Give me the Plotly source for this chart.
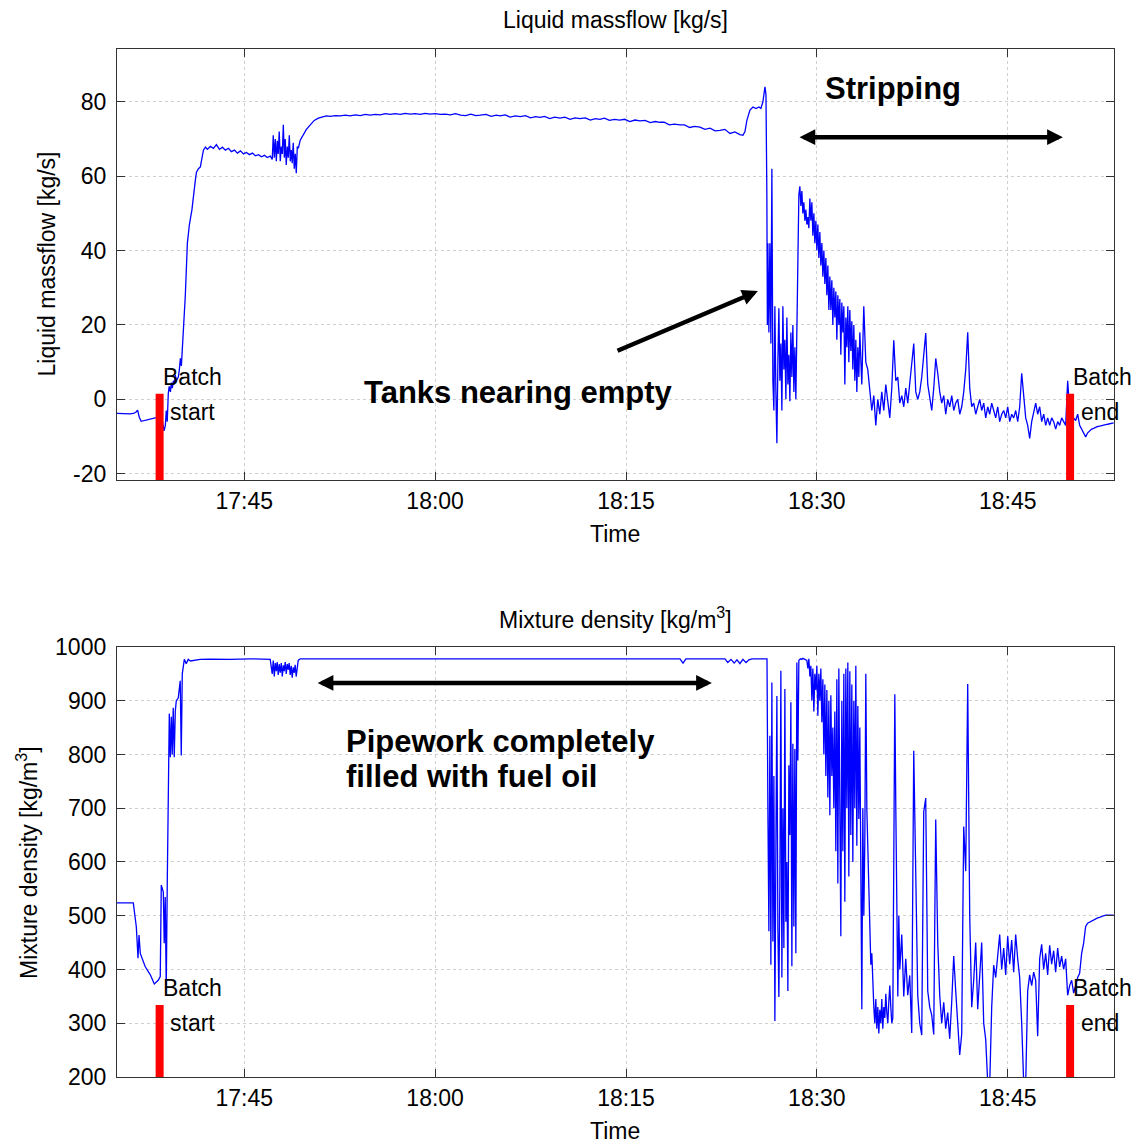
import numpy as np
import pandas as pd
import plotly.graph_objects as go
from plotly.subplots import make_subplots

# ---------------- data (time in minutes after 17:35:00) ----------------
flow_t1 = [0.0, 0.5, 1.0, 1.3, 1.5, 1.62, 1.75, 1.9, 2.2, 2.6, 3.0, 3.3, 3.55, 3.7, 3.8, 3.87, 3.95,
           4.03, 4.1, 4.2, 4.27, 4.35, 4.43, 4.5, 4.58, 4.66, 4.82, 4.9, 4.98, 5.06, 5.14, 5.22, 5.37, 5.53, 5.69, 5.89,
           6.0, 6.16, 6.24, 6.4, 6.55, 6.71, 6.79, 6.95, 7.1, 7.34, 7.58, 7.81, 8.05, 8.28, 8.52, 8.76, 8.99, 9.23, 9.46, 9.7, 9.94,
           10.17, 10.41, 10.64, 10.88, 11.12, 11.35, 11.59, 11.8, 12.05, 12.2,
           12.28, 12.36, 12.44, 12.52, 12.6, 12.67, 12.75, 12.83, 12.91, 12.99, 13.07, 13.15, 13.22, 13.3, 13.38, 13.46,
           13.54, 13.62, 13.7, 13.77, 13.85, 13.93, 14.01, 14.09, 14.17, 14.25,
           14.4, 14.64, 14.87, 15.19, 15.5, 15.82, 16.13, 16.45, 16.76, 17.16, 17.55, 17.94, 18.33, 18.73, 19.12, 19.51,
           19.9, 20.3, 20.69, 21.08, 21.48, 21.87, 22.26, 22.65, 23.05, 23.44, 23.83, 24.22, 24.62, 25.01, 25.4, 25.8, 26.19,
           26.6, 27.0, 27.4, 27.8, 28.2, 28.54, 29.0, 29.4, 29.8, 30.1, 30.5, 30.9, 31.3, 31.7, 32.1, 32.5, 32.9, 33.24,
           33.6, 34.0, 34.4, 34.81, 35.2, 35.6, 36.0, 36.38, 36.8, 37.2, 37.6, 37.95, 38.3, 38.7, 39.1, 39.5, 39.9, 40.3,
           40.7, 41.1, 41.5, 41.9, 42.3, 42.67, 43.0, 43.4, 43.8, 44.24, 44.6, 45.0, 45.4, 45.81, 46.2, 46.6, 47.0, 47.38,
           47.77, 48.17, 48.56, 48.95,
           49.19, 49.35, 49.5, 49.74, 49.98, 50.21, 50.45, 50.6, 50.76, 50.92, 51.0, 51.07, 51.11]
flow_v1 = [-3.8, -3.9, -3.9, -3.8, -3.4, -2.9, -4.8, -5.9, -5.6, -5.2, -5.0, -4.9, -5.5, -8.5, -7.0, -3.0, -6.0,
           1.5, 3.5, 2.0, 4.5, 3.0, 5.0, 4.0, 6.5, 5.0, 6, 8, 11, 9, 14, 17, 28, 42, 47, 51,
           55, 59, 61, 62, 62.5, 65, 67, 67.8, 67.2, 68, 67.5, 68.5, 67.2, 67.8, 67, 67.5, 66.6, 67, 66.2, 66.8, 66,
           66.4, 65.8, 66.2, 65.5, 65.8, 65.2, 65.6, 65, 65.4, 64.5,
           71, 65, 70, 64, 69.5, 66, 72, 64, 68, 66, 73.8, 65, 70, 63, 68, 65, 71, 64, 67, 63.5, 69, 62, 66, 60.8, 68, 67.5,
           69.7, 71, 72.5, 73.8, 75, 75.6, 76, 76.2, 76.1, 76.3, 76.2, 76.4, 76.2, 76.5, 76.3, 76.6, 76.4, 76.6, 76.5, 76.8,
           76.6, 76.8, 76.6, 76.9, 76.7, 76.8, 76.6, 76.9, 76.7, 76.8, 76.6, 76.7, 76.5,
           76.8, 76.4, 76.3, 76.7, 76.3, 76.4, 76.6, 76.1, 76.4, 76.2, 76.5, 75.9, 76.2, 76.0, 76.3, 75.7, 76.0, 75.8,
           76.1, 75.5, 75.9, 75.6, 75.9, 75.3, 75.7, 75.5, 75.7, 75.1, 75.5, 75.3, 75.6, 75.0, 75.3, 75.1, 75.3, 74.7,
           75.1, 74.9, 75.0, 74.4, 74.7, 74.5, 74.5, 73.8, 74.0, 73.8, 73.8, 73.1, 73.4, 73.2, 72.6, 72.9, 72.2, 72.3,
           72.6, 71.5, 71.9, 71.2,
           71.0, 72, 75, 77.8, 78.6, 78.2, 78.6, 78.2, 80, 84, 82, 55, 20]

# fast-sampled part (period 4.71 s) starting 18:26:09
flow_fast_start, flow_fast_step = 51.15, 0.07854
flow_v2 = [42, 18, 42, 15, 62, 5, -3, 25, 2, -11.8,
           10, 24.5, 5, 15, -3, 25, 8, 16, 0, 22,
           4, 12, -0.5, 18, 6, 20, 2, 14, 0, 20,
           40, 55, 57.3, 52, 56, 50, 53, 48, 51, 47,
           49, 46, 54, 48, 53, 44, 50, 42, 48, 40,
           47, 38, 45, 36, 42, 33, 40, 31, 38, 28,
           36, 24, 33, 24, 32, 20, 30, 22, 29, 16,
           28, 20, 27, 12, 26, 18, 25, 4, 22, 14,
           25, 10, 24, 13, 21, 8, 20, 5, 16, 2,
           14, 6, 18]
# part sampled every 9.4 s starting 18:33:32
flow_slow_start, flow_slow_step = 58.53, 0.15708
flow_v3 = [4, 25, 10, 8, 3, -3, 1, -7, 0, -4,
           2, -3, 4, -1, -5, 3, 15.9, 5, 6, -1,
           1, -2, 3, -1, 5, 9, 15, 2, 0, 2,
           6, 12, 17.8, 4, 1, -3, 3, 11, 7, 2,
           -1, 1, -4, 0, -2, 1, -3, -1, 0, -4,
           -2, 2, 8, 18, 3, -2, -1, -4, -2, 0,
           -3, -1, -5, -2, -4, -1, -3, -5, -2, -6,
           -4, -3, -5, -2, -6, -4, -5, -3, -6, -2,
           7, 0, -5, -7, -10.5, -6, -3, -1, -4, -2,
           -6, -4, -7, -5, -7, -5, -6, -8, -6, -7,
           -5, -6, -7, 5, -3, -6, -5, -5.7, -4, -7,
           -8, -9, -10.1, -9, -8.5, -8, -7.8, -7.5, -7.3, -7.2,
           -7, -6.9, -6.8, -6.7, -6.5, -6.4, -6.3]

dens_t1 = [0.0, 0.65, 1.28, 1.52, 1.65, 1.73, 1.83, 2.22, 2.62, 2.93, 3.24, 3.40, 3.48, 3.64, 3.71, 3.79, 3.87, 3.95,
           4.05, 4.11, 4.19, 4.27, 4.34, 4.42, 4.50, 4.58, 4.66, 4.81, 4.97, 5.05, 5.13, 5.29, 5.44, 5.60, 5.76, 6.15,
           6.54, 7.33, 8.9, 10.47, 12.04,
           12.20, 12.28, 12.36, 12.44, 12.52, 12.59, 12.67, 12.75, 12.83, 12.91, 12.99, 13.07, 13.14, 13.22, 13.30,
           13.38, 13.46, 13.53, 13.61, 13.69, 13.77, 13.85, 13.93, 14.00, 14.08, 14.16, 14.24, 14.4,
           15.97, 22.25, 30.1, 37.96, 44.24, 44.48, 44.71, 47.78, 48.0, 48.25, 48.5, 48.72, 48.95, 49.19, 49.43,
           49.66, 49.9, 50.53, 51.08]
dens_v1 = [524, 524, 524, 479, 421, 464, 430, 405, 390, 373, 380, 387, 557, 544, 449, 535, 366, 560,
           783, 876, 795, 870, 800, 887, 795, 880, 900, 905, 937, 798, 950, 977, 969, 977, 974, 976,
           977, 977.5, 977, 978, 977,
           950, 975, 945, 970, 955, 972, 948, 968, 952, 970, 945, 966, 955, 972, 950,
           968, 958, 970, 948, 965, 943, 962, 952, 967, 945, 960, 975, 978,
           978, 978.5, 978, 978, 978, 970, 978, 978, 971, 977, 970, 976, 969, 977, 971,
           976, 978, 978, 978]

dens_fast_start, dens_fast_step = 51.15, 0.07854
dens_v2 = [700, 471, 835, 409, 934, 452, 760, 304, 620, 909,
           477, 349, 560, 956, 385, 700, 440, 922, 489, 600,
           360, 780, 650, 897, 406, 820, 480, 810, 430, 971,
           789, 975, 977, 978, 977, 979, 978, 977, 976, 975,
           960, 978, 945, 965, 900, 960, 880, 950, 920, 965,
           872, 950, 900, 960, 860, 940, 800, 930, 760, 920,
           720, 900, 687, 910, 760, 850, 700, 880, 620, 940,
           560, 960, 700, 462, 900, 620, 950, 526, 960, 700,
           971, 573, 955, 650, 930, 600, 900, 700, 965, 630,
           890, 680, 850, 600, 326, 700, 500, 640, 950, 700,
           620, 540, 470, 409, 430, 358, 330, 300, 345, 290,
           330, 281, 325, 300, 345, 290, 330, 310, 355, 320,
           300, 340, 370, 330, 300, 310, 620, 912, 700, 450,
           350, 500, 400]
dens_slow_start, dens_slow_step = 61.67, 0.15708
dens_v3 = [465, 350, 420, 352, 389, 282, 807, 600, 352, 300,
           278, 693, 719, 360, 330, 315, 279, 679, 450, 352,
           300, 339, 290, 320, 271, 340, 425, 360, 300, 241,
           280, 666, 583, 931, 500, 330, 380, 450, 326, 400,
           450, 300, 270, 190, 185, 330, 408, 385, 430, 465,
           400, 440, 390, 462, 410, 455, 395, 465, 420, 385,
           300, 190, 185, 360, 390, 370, 395, 380, 276, 420,
           447, 400, 430, 390, 445, 410, 435, 395, 440, 405,
           425, 400, 420, 352, 370, 380, 356, 370, 385, 393,
           430, 449, 480, 486, 488, 491, 493, 495, 496, 497,
           499, 500, 501, 501, 501, 501, 501]

batch_times = ["17:38:21", "18:49:54"]
batch_flow_top = 1.5
batch_dens_top = 334
x_ticks = ["17:45", "18:00", "18:15", "18:30", "18:45"]
flow_ticks = [-20, 0, 20, 40, 60, 80]
dens_ticks = [200, 300, 400, 500, 600, 700, 800, 900, 1000]

# ---------------- build time axes ----------------
DAY = "2000-01-01 "
BASE = pd.Timestamp(DAY + "17:35:00")


def to_time(mins):
    return BASE + pd.to_timedelta(np.asarray(mins, dtype=float), unit="min")


flow_t = np.concatenate([np.asarray(flow_t1),
                         flow_fast_start + flow_fast_step * np.arange(len(flow_v2)),
                         flow_slow_start + flow_slow_step * np.arange(len(flow_v3))])
flow_v = flow_v1 + flow_v2 + flow_v3
dens_t = np.concatenate([np.asarray(dens_t1),
                         dens_fast_start + dens_fast_step * np.arange(len(dens_v2)),
                         dens_slow_start + dens_slow_step * np.arange(len(dens_v3))])
dens_v = dens_v1 + dens_v2 + dens_v3

FONT = "Liberation Sans, Arial, Helvetica, sans-serif"
BLUE = "#0000ff"

fig = make_subplots(rows=2, cols=1)
fig.add_trace(go.Scatter(x=to_time(flow_t), y=flow_v, mode="lines",
                         line=dict(color=BLUE, width=1.3), showlegend=False), row=1, col=1)
fig.add_trace(go.Scatter(x=to_time(dens_t), y=dens_v, mode="lines",
                         line=dict(color=BLUE, width=1.3), showlegend=False), row=2, col=1)

for bt in batch_times:
    t = pd.Timestamp(DAY + bt)
    fig.add_trace(go.Scatter(x=[t, t], y=[-40, batch_flow_top], mode="lines",
                             line=dict(color="#ff0000", width=8), showlegend=False), row=1, col=1)
    fig.add_trace(go.Scatter(x=[t, t], y=[100, batch_dens_top], mode="lines",
                             line=dict(color="#ff0000", width=8), showlegend=False), row=2, col=1)

x_range = [DAY + "17:35:00", DAY + "18:53:21"]
tickvals = [pd.Timestamp(DAY + v) for v in x_ticks]

axis_common = dict(showline=True, linecolor="#333333", linewidth=1.3, mirror="ticks",
                   ticks="inside", ticklen=8, tickwidth=1.3, tickcolor="#333333",
                   showgrid=True, gridcolor="#cfcfcf", griddash="dot", gridwidth=1,
                   zeroline=False, tickfont=dict(family=FONT, size=23, color="black"))

fig.update_xaxes(range=x_range, tickvals=tickvals, ticktext=x_ticks, type="date",
                 ticklabelstandoff=0, **axis_common)
fig.update_yaxes(ticklabelstandoff=5, **axis_common)
fig.update_yaxes(range=[-21.7, 94.2], tickvals=flow_ticks, ticktext=[str(v) for v in flow_ticks],
                 row=1, col=1)
fig.update_yaxes(range=[200, 1000], tickvals=dens_ticks, ticktext=[str(v) for v in dens_ticks],
                 row=2, col=1)

# page body adds an 8px offset, so the figure is 8px smaller and margins shifted
fig.update_layout(
    width=1133, height=1138,
    margin=dict(l=109, r=27, t=41, b=69),
    paper_bgcolor="white", plot_bgcolor="white",
    yaxis=dict(domain=[0.5807, 1.0]),
    yaxis2=dict(domain=[0.0, 0.4183]),
    font=dict(family=FONT, color="black"),
)

ann = []


def txt(text, x, y, size=23, bold=False, xanchor="center", angle=0):
    ann.append(dict(text=("<b>%s</b>" % text) if bold else text, x=x, y=y, xref="paper", yref="paper",
                    xanchor=xanchor, yanchor="middle", showarrow=False, textangle=angle,
                    font=dict(family=FONT, size=size, color="black")))


txt("Liquid massflow [kg/s]", 0.4995, 1.0282)
txt("Mixture density [kg/m<sup>3</sup>]", 0.4995, 0.4465)
txt("Time", 0.4995, 0.5282)
txt("Time", 0.4995, -0.0525)
txt("Liquid massflow [kg/s]", -0.0702, 0.7904, angle=-90)
txt("Mixture density [kg/m<sup>3</sup>]", -0.0903, 0.2091, angle=-90)

txt("Stripping", 0.7783, 0.9611, size=31, bold=True)
txt("Tanks nearing empty", 0.4032, 0.6654, size=31, bold=True)
txt("Pipework completely", 0.2277, 0.3268, size=31, bold=True, xanchor="left")
txt("filled with fuel oil", 0.2277, 0.2928, size=31, bold=True, xanchor="left")

for xs in [0.0441, 0.9569]:
    txt("Batch", xs, 0.6809, xanchor="left")
    txt("Batch", xs, 0.0866, xanchor="left")
txt("start", 0.0512, 0.6469, xanchor="left")
txt("start", 0.0512, 0.0525, xanchor="left")
txt("end", 0.9649, 0.6469, xanchor="left")
txt("end", 0.9649, 0.0525, xanchor="left")


def arrow(xref, yref, x0, y0, x1, y1, both):
    ann.append(dict(text="", x=pd.Timestamp(DAY + x1), y=y1, ax=pd.Timestamp(DAY + x0), ay=y0,
                    xref=xref, yref=yref, axref=xref, ayref=yref, showarrow=True,
                    arrowhead=2, arrowsize=0.7, arrowwidth=4.5, arrowcolor="black",
                    startarrowhead=2, startarrowsize=0.7,
                    arrowside="end+start" if both else "end", standoff=0, startstandoff=0))


arrow("x", "y", "18:28:31", 70.5, "18:49:20", 70.5, True)
arrow("x", "y", "18:14:13", 12.9, "18:25:22", 29.1, False)
arrow("x2", "y2", "17:50:39", 933, "18:21:45", 933, True)

fig.update_layout(annotations=ann)
fig.write_html("out.html")
